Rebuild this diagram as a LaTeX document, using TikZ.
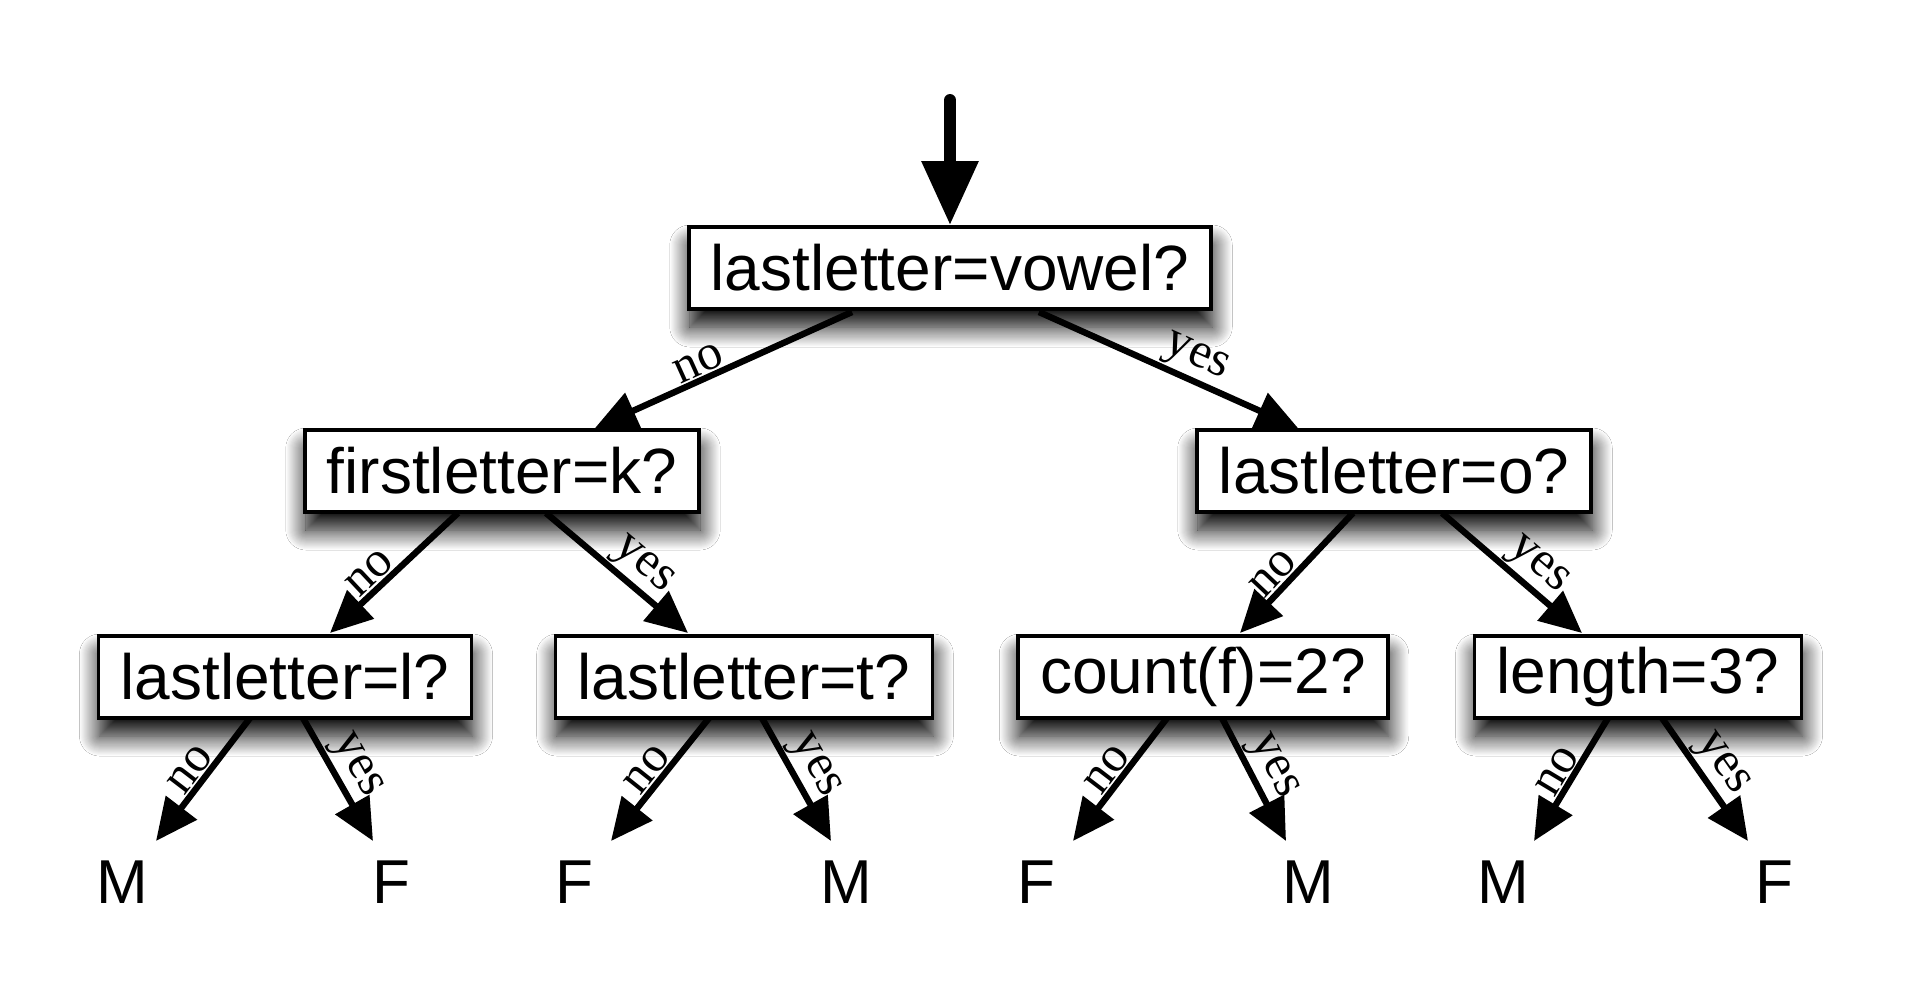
\documentclass[tikz,border=0pt]{standalone}
\usepackage{fontspec}
\setmainfont{Liberation Sans}
\newfontfamily\lblfont{Liberation Serif}
\usetikzlibrary{arrows.meta,calc,shadows.blur}
\begin{document}
\begin{tikzpicture}[x=0.5pt,y=-0.5pt,
  box/.style={draw=black, line width=1.8pt, fill=white, font=\fontsize{32}{36}\selectfont,
    inner xsep=11pt, inner ysep=0pt, minimum height=41pt,
    blur shadow={shadow xshift=0.5pt, shadow yshift=-9pt, shadow blur radius=10pt,
      shadow blur steps=20, shadow opacity=100}},
  leaf/.style={font=\fontsize{31}{36}\selectfont, inner sep=0pt},
  arr/.style={line width=3.2pt, -{Triangle[length=21pt,width=19pt]}},
  toparr/.style={line width=6pt, line cap=round, -{Triangle[length=32pt,width=27pt]}},
  lbl/.style={font=\lblfont\fontsize{25}{27}\selectfont, sloped, above, inner sep=0.5pt}
]
\useasboundingbox (0,0) rectangle (1916,1002);
\fill[white] (0,0) rectangle (1916,1002);

% decision nodes
\node[box] (root) at (950,268) {lastletter=vowel?};
\node[box] (c1) at (502,471) {firstletter=k?};
\node[box] (c2) at (1394,471) {lastletter=o?};
\node[box] (d1) at (285,677) {lastletter=l?};
\node[box] (d2) at (744,677) {lastletter=t?};
\node[box] (d3) at (1203,677) {count(f)=2?};
\node[box] (d4) at (1638,677) {length=3?};

% leaves
\node[leaf] (l1) at (122,882) {M};
\node[leaf] (l2) at (391,882) {F};
\node[leaf] (l3) at (574,882) {F};
\node[leaf] (l4) at (846,882) {M};
\node[leaf] (l5) at (1036,882) {F};
\node[leaf] (l6) at (1308,882) {M};
\node[leaf] (l7) at (1503,882) {M};
\node[leaf] (l8) at (1774,882) {F};

% entry arrow
\coordinate (entry) at (950,100);
\draw[toparr] (entry) -- (root.north);

% level 1
\draw[arr] ($(root)+(-98,44)$) -- node[lbl,pos=0.57] {no} ($(c1)+(93,-43)$);
\draw[arr] ($(root)+(89,44)$) -- node[lbl,pos=0.57] {yes} ($(c2)+(-96,-43)$);

% level 2
\draw[arr] ($(c1)+(-44,42)$) -- node[lbl,pos=0.6] {no} ($(d1)+(45,-44)$);
\draw[arr] ($(c1)+(44,42)$) -- node[lbl,pos=0.58] {yes} ($(d2)+(-56,-44)$);
\draw[arr] ($(c2)+(-41,42)$) -- node[lbl,pos=0.6] {no} ($(d3)+(37,-44)$);
\draw[arr] ($(c2)+(48,42)$) -- node[lbl,pos=0.58] {yes} ($(d4)+(-56,-44)$);

% level 3
\draw[arr] ($(d1)+(-35,41)$) -- node[lbl,pos=0.5] {no} ($(l1)+(34,-41)$);
\draw[arr] ($(d1)+(18,41)$) -- node[lbl,pos=0.48] {yes} ($(l2)+(-18,-41)$);
\draw[arr] ($(d2)+(-35,41)$) -- node[lbl,pos=0.5] {no} ($(l3)+(37,-41)$);
\draw[arr] ($(d2)+(18,41)$) -- node[lbl,pos=0.48] {yes} ($(l4)+(-15,-41)$);
\draw[arr] ($(d3)+(-36,41)$) -- node[lbl,pos=0.5] {no} ($(l5)+(37,-41)$);
\draw[arr] ($(d3)+(19,41)$) -- node[lbl,pos=0.48] {yes} ($(l6)+(-22,-41)$);
\draw[arr] ($(d4)+(-30,41)$) -- node[lbl,pos=0.5] {no} ($(l7)+(31,-41)$);
\draw[arr] ($(d4)+(24,41)$) -- node[lbl,pos=0.48] {yes} ($(l8)+(-26,-41)$);
\end{tikzpicture}
\end{document}
